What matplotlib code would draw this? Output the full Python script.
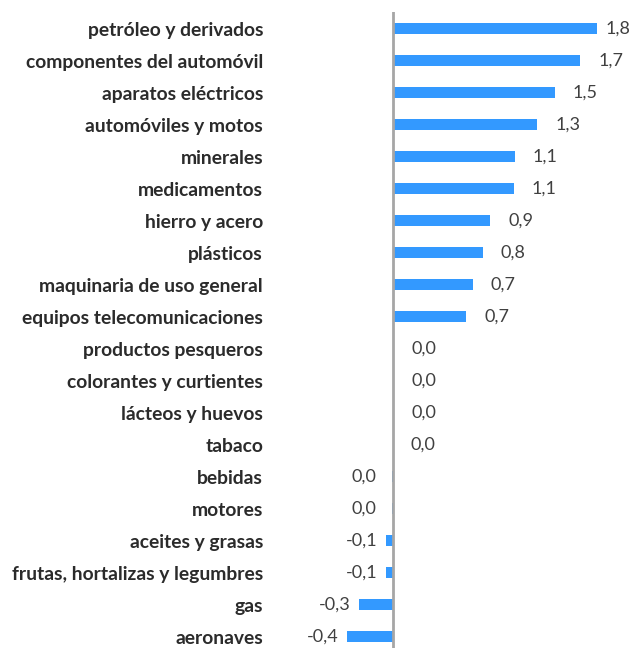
import matplotlib
matplotlib.use("Agg")
import matplotlib.pyplot as plt

categories = [
    "petróleo y derivados", "componentes del automóvil", "aparatos eléctricos",
    "automóviles y motos", "minerales", "medicamentos", "hierro y acero",
    "plásticos", "maquinaria de uso general", "equipos telecomunicaciones",
    "productos pesqueros", "colorantes y curtientes", "lácteos y huevos",
    "tabaco", "bebidas", "motores", "aceites y grasas",
    "frutas, hortalizas y legumbres", "gas", "aeronaves",
]
values = [1.84, 1.69, 1.46, 1.30, 1.10, 1.09, 0.88, 0.81, 0.72, 0.66,
          0.01, 0.01, 0.005, 0.002, -0.003, -0.005, -0.06, -0.06, -0.30, -0.41]

W, H, DPI = 632, 648, 100
fig = plt.figure(figsize=(W / DPI, H / DPI), dpi=DPI)
left_px, right_px, top_px, bot_px = 330, 632, 12, 648
ax = fig.add_axes([left_px / W, 1 - bot_px / H, (right_px - left_px) / W, (bot_px - top_px) / H])

zero_px, scale = 392.7, 111.0
ax.set_xlim((left_px - zero_px) / scale, (right_px - zero_px) / scale)
ax.set_ylim(-0.52 + (bot_px - top_px) / 32.0, -0.52)

y = list(range(len(categories)))
ax.barh(y, values, height=0.34, color="#3399FF", zorder=2)
ax.axvline(0, color="#A6A6A6", lw=2.0, zorder=3)

for s in ax.spines.values():
    s.set_visible(False)
ax.set_xticks([])
ax.set_yticks(y)
ax.set_yticklabels(categories, fontfamily="Lato", fontweight="bold", fontsize=13.9, color="#2B2B2B")
ax.tick_params(axis="y", length=0, pad=(left_px - 263) * 72 / DPI)

vmax = max(values)
for yi, v in zip(y, values):
    txt = f"{abs(v) if round(v, 1) == 0 else v:.1f}".replace(".", ",")
    if v >= 0:
        off = 6 if v == vmax else 13
        ax.annotate(txt, (max(v, 0), yi), xytext=(off, 0), textcoords="offset points",
                    ha="left", va="center", fontfamily="Lato", fontsize=13, color="#404040")
    else:
        off = -11.5 if round(v, 1) == 0 else -6.5
        ax.annotate(txt, (v, yi), xytext=(off, 0), textcoords="offset points",
                    ha="right", va="center", fontfamily="Lato", fontsize=13, color="#404040")

fig.savefig("out.png", dpi=DPI)
